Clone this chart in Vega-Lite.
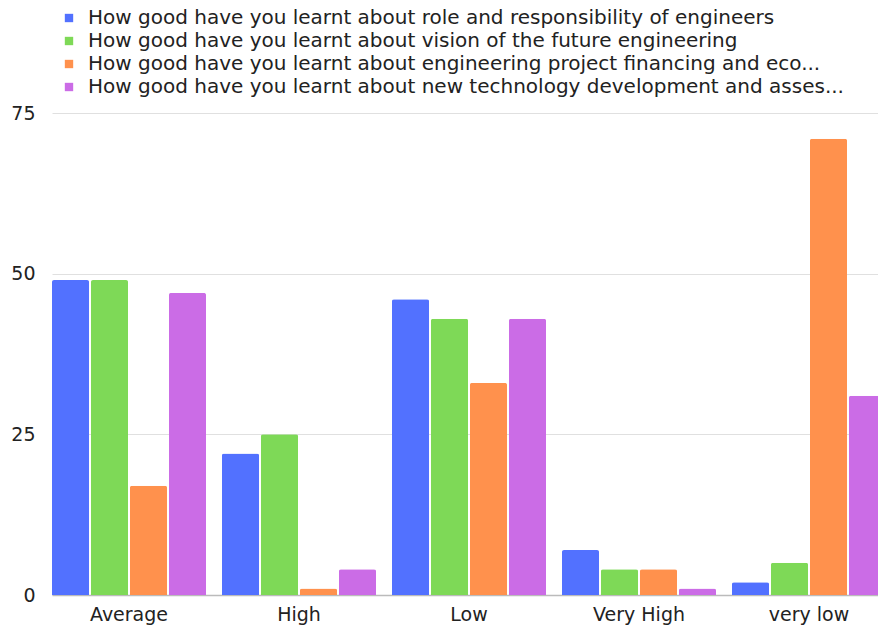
{
  "$schema": "https://vega.github.io/schema/vega-lite/v6.json",
  "autosize": {"type": "none"},
  "width": 826,
  "height": 482,
  "padding": {"left": 52, "top": 113, "right": 0, "bottom": 32},
  "background": "white",
  "data": {
    "values": [
      {"level": "Average", "topic": "How good have you learnt about role and responsibility of engineers", "count": 49},
      {"level": "Average", "topic": "How good have you learnt about  vision of the future engineering", "count": 49},
      {"level": "Average", "topic": "How good have you learnt about engineering project financing and eco...", "count": 17},
      {"level": "Average", "topic": "How good have you learnt about  new technology development and asses...", "count": 47},
      {"level": "High", "topic": "How good have you learnt about role and responsibility of engineers", "count": 22},
      {"level": "High", "topic": "How good have you learnt about  vision of the future engineering", "count": 25},
      {"level": "High", "topic": "How good have you learnt about engineering project financing and eco...", "count": 1},
      {"level": "High", "topic": "How good have you learnt about  new technology development and asses...", "count": 4},
      {"level": "Low", "topic": "How good have you learnt about role and responsibility of engineers", "count": 46},
      {"level": "Low", "topic": "How good have you learnt about  vision of the future engineering", "count": 43},
      {"level": "Low", "topic": "How good have you learnt about engineering project financing and eco...", "count": 33},
      {"level": "Low", "topic": "How good have you learnt about  new technology development and asses...", "count": 43},
      {"level": "Very High", "topic": "How good have you learnt about role and responsibility of engineers", "count": 7},
      {"level": "Very High", "topic": "How good have you learnt about  vision of the future engineering", "count": 4},
      {"level": "Very High", "topic": "How good have you learnt about engineering project financing and eco...", "count": 4},
      {"level": "Very High", "topic": "How good have you learnt about  new technology development and asses...", "count": 1},
      {"level": "very low", "topic": "How good have you learnt about role and responsibility of engineers", "count": 2},
      {"level": "very low", "topic": "How good have you learnt about  vision of the future engineering", "count": 5},
      {"level": "very low", "topic": "How good have you learnt about engineering project financing and eco...", "count": 71},
      {"level": "very low", "topic": "How good have you learnt about  new technology development and asses...", "count": 31}
    ]
  },
  "config": {
    "font": "DejaVu Sans",
    "view": {"stroke": null}
  },
  "mark": {"type": "bar", "cornerRadiusTopLeft": 2, "cornerRadiusTopRight": 2},
  "encoding": {
    "x": {
      "field": "level",
      "type": "nominal",
      "sort": ["Average", "High", "Low", "Very High", "very low"],
      "scale": {"range": [0, 834], "paddingInner": 0.094, "paddingOuter": 0},
      "axis": {
        "title": null,
        "labelAngle": 0,
        "ticks": false,
        "labelPadding": 10,
        "labelFontSize": 19,
        "labelColor": "#222",
        "domainColor": "#bbbbbb",
        "domainWidth": 1.5
      }
    },
    "xOffset": {
      "field": "topic",
      "type": "nominal",
      "sort": null,
      "scale": {"paddingInner": 0.05}
    },
    "y": {
      "field": "count",
      "type": "quantitative",
      "scale": {"domain": [0, 75]},
      "axis": {
        "title": null,
        "values": [0, 25, 50, 75],
        "domain": false,
        "ticks": false,
        "labelPadding": 17,
        "labelFontSize": 19,
        "labelColor": "#222",
        "gridColor": "#e0e0e0"
      }
    },
    "color": {
      "field": "topic",
      "type": "nominal",
      "sort": null,
      "scale": {"range": ["#5271ff", "#7ed957", "#ff914d", "#cb6ce6"]},
      "legend": {
        "title": null,
        "orient": "none",
        "legendX": 7,
        "legendY": -105,
        "symbolType": "square",
        "symbolSize": 70,
        "labelFontSize": 20,
        "labelColor": "#222",
        "rowPadding": 3,
        "labelLimit": 900,
        "labelOffset": 9
      }
    }
  }
}
